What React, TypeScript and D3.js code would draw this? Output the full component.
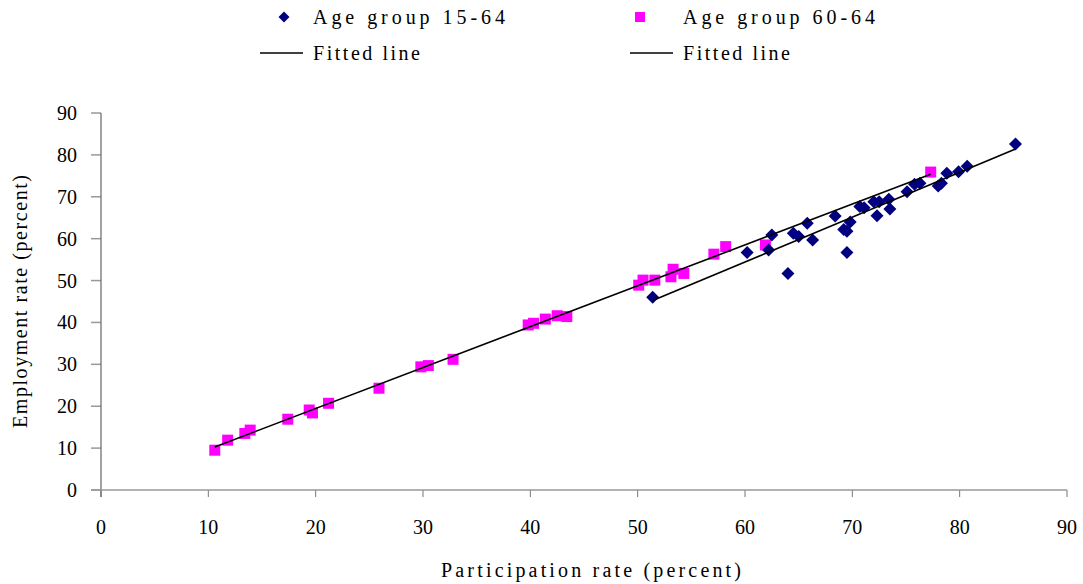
import React from 'react'
import * as d3 from 'd3'

// participation (x) / employment (y), percent
const age1564Participation = [51.4, 60.2, 62.2, 62.5, 64.0, 64.5, 65.0, 65.8, 66.3, 68.4, 69.2, 69.5, 69.8, 69.5, 70.7, 71.1, 72.0, 72.5, 72.3, 73.4, 73.5, 75.1, 75.8, 76.3, 78.0, 78.3, 78.8, 79.9, 80.7, 85.2]
const age1564Employment = [46.0, 56.7, 57.3, 60.9, 51.7, 61.3, 60.5, 63.7, 59.7, 65.4, 62.2, 61.8, 64.0, 56.7, 67.7, 67.4, 68.8, 68.8, 65.5, 69.4, 67.1, 71.2, 73.0, 73.2, 72.6, 73.2, 75.6, 76.0, 77.3, 82.6]

const age6064Participation = [10.6, 11.8, 13.4, 13.9, 17.4, 19.4, 19.7, 21.2, 25.9, 29.8, 30.5, 32.8, 39.8, 40.3, 41.4, 42.5, 43.4, 50.1, 50.5, 51.6, 53.1, 53.3, 54.3, 57.1, 58.2, 61.9, 77.3]
const age6064Employment = [9.5, 11.9, 13.5, 14.3, 16.9, 19.1, 18.4, 20.7, 24.3, 29.4, 29.7, 31.2, 39.4, 39.8, 40.8, 41.6, 41.4, 48.9, 50.1, 50.1, 50.9, 52.7, 51.7, 56.3, 58.1, 58.5, 75.9]

const xTicks = [0, 10, 20, 30, 40, 50, 60, 70, 80, 90]
const yTicks = [0, 10, 20, 30, 40, 50, 60, 70, 80, 90]

const seriesNames = ['Age group 15-64', 'Age group 60-64']
const fitName = 'Fitted line'
const xTitle = 'Participation rate (percent)'
const yTitle = 'Employment rate (percent)'

const FONT = "'Liberation Serif', 'Times New Roman', 'DejaVu Serif', serif"

// least squares fit, drawn between the smallest and largest x
function fit(xs: number[], ys: number[]) {
    const mx = d3.mean(xs) as number
    const my = d3.mean(ys) as number
    let sxy = 0, sxx = 0
    xs.forEach((x, i) => { sxy += (x - mx) * (ys[i] - my); sxx += (x - mx) * (x - mx) })
    const b = sxy / sxx
    const a = my - b * mx
    const [x0, x1] = d3.extent(xs) as [number, number]
    return [{ x: x0, y: a + b * x0 }, { x: x1, y: a + b * x1 }]
}

export default function App() {
    const width = 1083, height = 584
    const left = 101, right = 1067, top = 113, bottom = 490

    const x = d3.scaleLinear().domain([0, 90]).range([left, right])
    const y = d3.scaleLinear().domain([0, 90]).range([bottom, top])

    const line = d3.line<{ x: number, y: number }>()
        .x(d => x(d.x))
        .y(d => y(d.y))

    const fit1564 = fit(age1564Participation, age1564Employment)
    const fit6064 = fit(age6064Participation, age6064Employment)

    const diamond = (cx: number, cy: number, r: number) =>
        `M${cx},${cy - r}L${cx + r},${cy}L${cx},${cy + r}L${cx - r},${cy}Z`

    return (
        <svg width={width} height={height} style={{ position: 'absolute', left: 0, top: 0, background: '#fff', fontFamily: FONT }}>
            {/* legend */}
            <g style={{ fontFamily: FONT }} fontSize={20} fill="#000">
                <path d={diamond(284, 17, 5.5)} fill="#000080" />
                <text x={313} y={24} textLength={192} lengthAdjust="spacing">{seriesNames[0]}</text>
                <rect x={635} y={12} width={10} height={10} fill="#ff00ff" />
                <text x={683} y={24} textLength={192} lengthAdjust="spacing">{seriesNames[1]}</text>
                <line x1={260} x2={303} y1={53} y2={53} stroke="#000" strokeWidth={1.5} />
                <text x={313} y={60} textLength={107} lengthAdjust="spacing">{fitName}</text>
                <line x1={630} x2={673} y1={53} y2={53} stroke="#000" strokeWidth={1.5} />
                <text x={683} y={60} textLength={107} lengthAdjust="spacing">{fitName}</text>
            </g>

            {/* axes */}
            <g>
                {yTicks.map(t => (
                    <line key={'yt' + t} x1={left - 10} x2={left} y1={y(t)} y2={y(t)} stroke="#999" strokeWidth={1.5} />
                ))}
                {xTicks.map(t => (
                    <line key={'xt' + t} x1={x(t)} x2={x(t)} y1={bottom} y2={bottom + 7} stroke="#777" strokeWidth={1} />
                ))}
                <line x1={left} x2={left} y1={top} y2={bottom + 7} stroke="#666" strokeWidth={1.2} />
                <line x1={left - 10} x2={right} y1={bottom} y2={bottom} stroke="#999" strokeWidth={1.5} />
            </g>

            <g style={{ fontFamily: FONT }} fontSize={20} fill="#000">
                {yTicks.map(t => (
                    <text key={'yl' + t} x={left - 24} y={y(t)} dy="0.35em" textAnchor="end">{t}</text>
                ))}
                {xTicks.map(t => (
                    <text key={'xl' + t} x={x(t)} y={bottom + 44} textAnchor="middle">{t}</text>
                ))}
                <text x={(441 + 741) / 2} y={577} textAnchor="middle" textLength={300} lengthAdjust="spacing">{xTitle}</text>
                <text transform={`translate(27,${(175 + 428) / 2}) rotate(-90)`} textAnchor="middle" textLength={253} lengthAdjust="spacing">{yTitle}</text>
            </g>

            {/* points */}
            <g>
                {age6064Participation.map((p, i) => (
                    <rect key={'m' + i} x={x(p) - 5.5} y={y(age6064Employment[i]) - 5.5} width={11} height={11} fill="#ff00ff" />
                ))}
                {age1564Participation.map((p, i) => (
                    <path key={'b' + i} d={diamond(x(p), y(age1564Employment[i]), 6.5)} fill="#000080" />
                ))}
            </g>

            {/* fitted lines */}
            <path d={line(fit6064) || ''} fill="none" stroke="#000" strokeWidth={1.6} />
            <path d={line(fit1564) || ''} fill="none" stroke="#000" strokeWidth={1.6} />
        </svg>
    )
}
